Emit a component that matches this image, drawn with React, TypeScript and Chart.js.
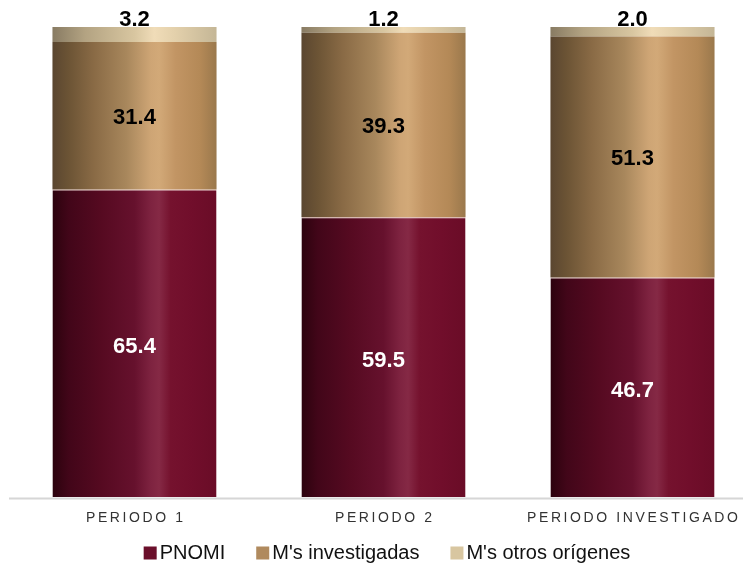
import React, { useEffect, useRef } from "react";
import { Chart, registerables } from "chart.js";

Chart.register(...registerables);

const categories = ["PERIODO 1", "PERIODO 2", "PERIODO INVESTIGADO"];
const pnomi = [65.4, 59.5, 46.7];
const investigadas = [31.4, 39.3, 51.3];
const otros = [3.2, 1.2, 2.0];
const seriesNames = ["PNOMI", "M's investigadas", "M's otros orígenes"];

const BAR_PCT = 0.659;
const FONT = "'Liberation Sans', Arial, sans-serif";

const gradStops: [number, string][][] = [
  [
    [0, "#2c030e"],
    [0.1, "#420619"],
    [0.3, "#560a21"],
    [0.5, "#66112d"],
    [0.6, "#7e2340"],
    [0.65, "#852945"],
    [0.72, "#75122e"],
    [0.85, "#710e2b"],
    [1, "#6a0c27"],
  ],
  [
    [0, "#5a4630"],
    [0.1, "#6c5435"],
    [0.25, "#896a45"],
    [0.45, "#a8875c"],
    [0.6, "#cea575"],
    [0.65, "#d2a978"],
    [0.75, "#c29564"],
    [0.9, "#b48957"],
    [1, "#9a784c"],
  ],
  [
    [0, "#887b63"],
    [0.2, "#b3a382"],
    [0.5, "#d8c6a0"],
    [0.62, "#f0dcb8"],
    [0.75, "#e3d0ab"],
    [1, "#c4b696"],
  ],
];
const solidColors = ["#6b0f2b", "#b08a5e", "#d8c6a0"];

function makeBg(seriesIdx: number) {
  return (ctx: any) => {
    const chart = ctx.chart;
    const xs = chart.scales?.x;
    if (!chart.chartArea || !xs || ctx.dataIndex === undefined) return solidColors[seriesIdx];
    const cx = xs.getPixelForValue(ctx.dataIndex);
    const w = (xs.width / categories.length) * BAR_PCT;
    const g = chart.ctx.createLinearGradient(cx - w / 2, 0, cx + w / 2, 0);
    for (const [o, c] of gradStops[seriesIdx]) g.addColorStop(o, c);
    return g;
  };
}

const overlayPlugin = {
  id: "overlay",
  afterDatasetsDraw(chart: any) {
    const ctx = chart.ctx as CanvasRenderingContext2D;
    ctx.save();
    // axis line
    const bottom = chart.chartArea.bottom;
    ctx.strokeStyle = "#d6d6d6";
    ctx.lineWidth = 2;
    ctx.beginPath();
    ctx.moveTo(9, bottom + 1.5);
    ctx.lineTo(chart.width, bottom + 1.5);
    ctx.stroke();

    // data labels
    ctx.font = `bold 22px ${FONT}`;
    ctx.textAlign = "center";
    ctx.textBaseline = "middle";
    chart.data.datasets.forEach((ds: any, di: number) => {
      const meta = chart.getDatasetMeta(di);
      meta.data.forEach((el: any, i: number) => {
        const v = ds.data[i];
        const txt = v.toFixed(1);
        if (di === 0) {
          ctx.fillStyle = "#ffffff";
          ctx.fillText(txt, el.x, (el.y + el.base) / 2 + 4);
        } else if (di === 1) {
          ctx.fillStyle = "#000000";
          ctx.fillText(txt, el.x, (el.y + el.base) / 2 + 2);
        } else {
          ctx.fillStyle = "#000000";
          ctx.fillText(txt, el.x, el.y - 7);
        }
      });
    });

    // category labels
    const xs = chart.scales.x;
    ctx.font = `14px ${FONT}`;
    ctx.fillStyle = "#333333";
    (ctx as any).letterSpacing = "2.6px";
    categories.forEach((c, i) => {
      ctx.fillText(c, xs.getPixelForValue(i) + 1.3, bottom + 21);
    });
    (ctx as any).letterSpacing = "0px";

    // legend
    ctx.font = `20px ${FONT}`;
    ctx.textAlign = "left";
    const box = 13;
    const gapText = 3;
    const gapItem = 31;
    const widths = seriesNames.map((n) => ctx.measureText(n).width);
    const total =
      widths.reduce((a, b) => a + b, 0) + seriesNames.length * (box + gapText) + gapItem * (seriesNames.length - 1);
    let x = 387 - total / 2;
    const ly = 553;
    seriesNames.forEach((n, i) => {
      ctx.fillStyle = solidColors[i];
      ctx.fillRect(x, ly - box / 2, box, box);
      x += box + gapText;
      ctx.fillStyle = "#111111";
      ctx.fillText(n, x, ly);
      x += widths[i] + gapItem;
    });
    ctx.restore();
  },
};

export default function App() {
  const ref = useRef<HTMLCanvasElement | null>(null);
  useEffect(() => {
    if (!ref.current) return;
    const chart = new Chart(ref.current, {
      type: "bar",
      data: {
        labels: categories,
        datasets: [
          {
            label: seriesNames[0],
            data: pnomi,
            backgroundColor: makeBg(0),
            borderColor: "rgba(190,110,100,0.55)",
            borderWidth: { top: 1, left: 0, right: 0, bottom: 0 },
            borderSkipped: false,
          },
          {
            label: seriesNames[1],
            data: investigadas,
            backgroundColor: makeBg(1),
            borderWidth: 0,
          },
          {
            label: seriesNames[2],
            data: otros,
            backgroundColor: makeBg(2),
            borderWidth: 0,
          },
        ],
      },
      options: {
        responsive: false,
        animation: false,
        datasets: { bar: { barPercentage: BAR_PCT, categoryPercentage: 1 } },
        layout: { padding: { top: 27, bottom: 66, left: 10, right: 13 } },
        plugins: { legend: { display: false }, tooltip: { enabled: false } },
        scales: {
          x: { display: false, stacked: true },
          y: { display: false, stacked: true, min: 0, max: 100 },
        },
      },
      plugins: [overlayPlugin],
    });
    return () => chart.destroy();
  }, []);
  return (
    <div
      style={{
        position: "absolute",
        left: 0,
        top: 0,
        width: 743,
        height: 563,
        overflow: "hidden",
        background: "#ffffff",
      }}
    >
      <canvas ref={ref} width={770} height={563} style={{ display: "block" }} />
    </div>
  );
}
